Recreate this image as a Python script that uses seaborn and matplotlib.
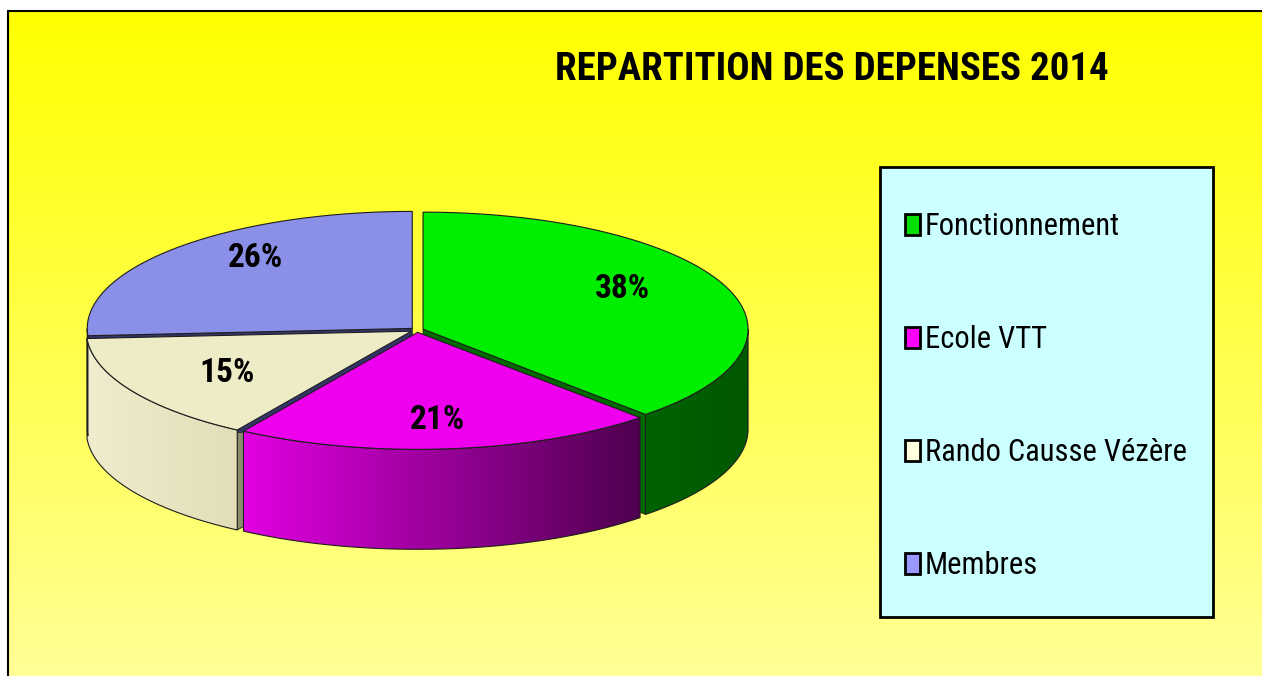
import numpy as np
import matplotlib
matplotlib.use('Agg')
import matplotlib.pyplot as plt
from matplotlib.patches import Polygon, Rectangle, Patch
import seaborn as sns

# chart data
categories = ['Fonctionnement', 'Ecole VTT', 'Rando Causse Vézère', 'Membres']
shares = [38, 21, 15, 26]
pct_labels = ['38%', '21%', '15%', '26%']
title = 'REPARTITION DES DEPENSES 2014'

# colours (top face, side gradient left->right, cut wall, legend key)
top_colors = ['#00ee00', '#ee00ee', '#eeecc6', '#8a8fe8']
side_left = ['#006200', '#e200e2', '#f0ecce', '#5a5fa8']
side_right = ['#005800', '#4e004e', '#e2deb8', '#5a5fa8']
wall_colors = ['#006a00', '#700070', '#8c8c6c', '#34346a']
legend_colors = ['#00dd00', '#ff00ff', '#ffffdd', '#9999ff']

sns.set_theme(style='white')
plt.rcParams['font.family'] = ['Roboto Condensed', 'Liberation Sans', 'DejaVu Sans']
plt.rcParams['text.color'] = 'black'

W, H = 1262, 676
fig = plt.figure(figsize=(W / 100, H / 100), dpi=100)
fig.patch.set_facecolor('white')
ax = fig.add_axes([0, 0, 1, 1])

# yellow gradient background
bg = np.array(sns.blend_palette(['#ffff00', '#ffff96'], 256))[:, None, :]
ax.imshow(bg, extent=(8, W, 0, H - 11), aspect='auto', origin='upper', zorder=0)
ax.plot([8, 8], [0, H - 11], color='black', lw=1.5, zorder=1)
ax.plot([8, W], [H - 11, H - 11], color='black', lw=1.5, zorder=1)

# 3D pie geometry
cx, cy, a, b, depth = 417, 346, 325, 117, 100
explode = 0.02
frac = np.array(shares) / sum(shares)
ends = 90 - 360 * np.cumsum(frac)
starts = ends + 360 * frac
edge = '#1e1e1e'


def rim(t, ox, oy):
    t = np.radians(t)
    return cx + ox + a * np.cos(t), cy + oy + b * np.sin(t)


for i in range(len(shares)):
    lo, hi = ends[i], starts[i]
    mid = np.radians((lo + hi) / 2)
    ox, oy = explode * a * np.cos(mid), explode * b * np.sin(mid)

    # cut walls facing the viewer
    for ang, normal in [(lo, lo - 90), (hi, hi + 90)]:
        if np.sin(np.radians(normal)) < -1e-6:
            rx, ry = rim(ang, ox, oy)
            quad = [(cx + ox, cy + oy), (rx, ry), (rx, ry - depth), (cx + ox, cy + oy - depth)]
            ax.add_patch(Polygon(quad, closed=True, facecolor=wall_colors[i],
                                 edgecolor=edge, lw=0.6, zorder=2))

    # outer side, front half only, shaded with a horizontal gradient
    f0, f1 = max(lo, -180), min(hi, 0)
    if f1 > f0:
        ts = np.linspace(f0, f1, 200)
        xs, ys = rim(ts, ox, oy)
        outline = list(zip(xs, ys)) + list(zip(xs[::-1], ys[::-1] - depth))
        side = Polygon(outline, closed=True, facecolor='none', edgecolor='none', zorder=3)
        ax.add_patch(side)
        grad = np.array(sns.blend_palette([side_left[i], side_right[i]], 256))[None, :, :]
        im = ax.imshow(grad, extent=(xs.min(), xs.max(), ys.min() - depth, ys.max()),
                       aspect='auto', zorder=3, interpolation='bilinear')
        im.set_clip_path(side)
        ax.add_patch(Polygon(outline, closed=True, fill=False, edgecolor=edge,
                             lw=0.8, zorder=3.5))

    # top face
    ts = np.linspace(lo, hi, 200)
    xs, ys = rim(ts, ox, oy)
    pts = [(cx + ox, cy + oy)] + list(zip(xs, ys))
    ax.add_patch(Polygon(pts, closed=True, facecolor=top_colors[i],
                         edgecolor=edge, lw=0.8, zorder=4))

    # percentage label
    lx = cx + ox + 0.66 * a * np.cos(mid)
    ly = cy + oy + 0.8 * b * np.sin(mid) + 6
    ax.text(lx, ly, pct_labels[i], ha='center', va='center', fontsize=24,
            fontweight='bold', color='black', zorder=6)

# title
ax.text(832, 607, title, ha='center', va='center', fontsize=28,
        fontweight='bold', color='black', zorder=6)

# legend box and entries
ax.add_patch(Rectangle((880, H - 617), 333, 450, facecolor='#ccffff',
                       edgecolor='black', lw=2, zorder=5))
handles = [Patch(facecolor=c, edgecolor='black', linewidth=2) for c in legend_colors]
leg = ax.legend(handles, categories, loc='center', bbox_to_anchor=(1046, H - 396),
                bbox_transform=ax.transData, frameon=False, fontsize=22,
                handlelength=0.5, handleheight=0.7, handletextpad=0.15,
                labelspacing=2.75, labelcolor='black')
leg.set_zorder(7)

ax.set_xlim(0, W)
ax.set_ylim(0, H)
ax.axis('off')

fig.savefig('out.png', dpi=100)
